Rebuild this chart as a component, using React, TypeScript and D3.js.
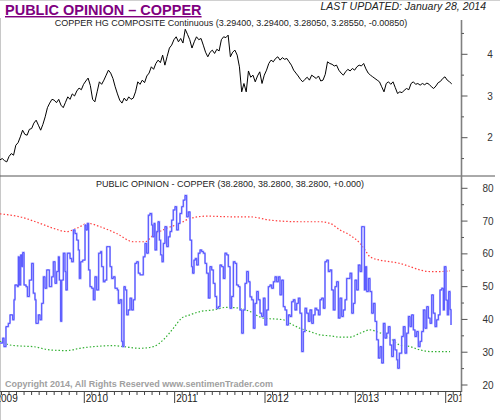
import React from "react";
import * as d3 from "d3";

// ---- Copper HG composite (weekly-ish samples, start 2009.067, step 0.025 year)
const copperStart = 2009.067;
const copperStep = 0.025;
const copperValues = [
  1.47, 1.5, 1.45, 1.42, 1.55, 1.62, 1.58, 1.82, 1.88, 2.02,
  2.18, 2.08, 2.06, 2.2, 2.22, 2.35, 2.42, 2.3, 2.18, 2.32,
  2.5, 2.72, 2.83, 2.92, 2.9, 2.84, 2.92, 2.78, 2.72, 2.85,
  2.98, 2.92, 3.05, 3.0, 3.12, 3.19, 3.15, 3.28, 3.36, 3.43,
  3.25, 2.92, 2.86, 3.1, 3.34, 3.28, 3.38, 3.5, 3.62, 3.55,
  3.42, 3.22, 3.05, 2.9, 2.83, 2.95, 2.88, 2.98, 2.92, 2.95,
  3.1, 3.34, 3.28, 3.38, 3.32, 3.48, 3.55, 3.7, 3.64, 3.78,
  3.86, 3.8, 3.98, 3.74, 3.95, 4.15, 4.22, 4.35, 4.42, 4.3,
  4.38, 4.27, 4.6, 4.48, 4.35, 4.15, 4.3, 4.42, 4.35, 4.38,
  4.22, 4.05, 3.94, 4.05, 4.1, 4.02, 4.12, 4.08, 4.35, 4.42,
  4.4, 4.46, 3.94, 4.05, 4.1, 3.98, 3.7, 3.1, 3.3, 3.1,
  3.6, 3.45, 3.5, 3.34, 3.48, 3.58, 3.3, 3.5, 3.62, 3.78,
  3.86, 3.82, 3.9, 3.94, 3.86, 3.92, 3.88, 3.9, 3.82, 3.74,
  3.62, 3.55, 3.48, 3.4, 3.34, 3.4, 3.45, 3.38, 3.5, 3.46,
  3.42, 3.48, 3.36, 3.38, 3.52, 3.82, 3.78, 3.76, 3.72, 3.74,
  3.62, 3.55, 3.5, 3.58, 3.64, 3.6, 3.66, 3.62, 3.7, 3.74,
  3.72, 3.78, 3.65, 3.55, 3.5, 3.46, 3.42, 3.38, 3.34, 3.22,
  3.1, 3.3, 3.34, 3.28, 3.34, 3.2, 3.06, 3.1, 3.08, 3.14,
  3.18, 3.15, 3.3, 3.34, 3.28, 3.3, 3.26, 3.3, 3.27, 3.31,
  3.28, 3.22, 3.18, 3.24, 3.32, 3.35, 3.42, 3.46, 3.38, 3.34,
  3.29,
];

// ---- Public opinion (weekly, step line)
const opinionYears = [
  2009.067, 2009.097, 2009.111, 2009.133, 2009.159, 2009.178, 2009.207, 2009.222, 2009.233, 2009.259,
  2009.27, 2009.281, 2009.296, 2009.307, 2009.318, 2009.333, 2009.355, 2009.37, 2009.392, 2009.417,
  2009.436, 2009.454, 2009.465, 2009.491, 2009.51, 2009.528, 2009.547, 2009.565, 2009.584, 2009.613,
  2009.639, 2009.657, 2009.676, 2009.694, 2009.713, 2009.724, 2009.738, 2009.75, 2009.768, 2009.786,
  2009.797, 2009.812, 2009.842, 2009.86, 2009.879, 2009.897, 2009.916, 2009.934, 2009.945, 2009.96,
  2009.982, 2010.008, 2010.019, 2010.034, 2010.048, 2010.063, 2010.082, 2010.1, 2010.118, 2010.137,
  2010.159, 2010.181, 2010.192, 2010.211, 2010.229, 2010.248, 2010.266, 2010.285, 2010.303, 2010.321,
  2010.34, 2010.366, 2010.377, 2010.395, 2010.414, 2010.425, 2010.439, 2010.454, 2010.469, 2010.487,
  2010.506, 2010.524, 2010.543, 2010.561, 2010.58, 2010.598, 2010.617, 2010.635, 2010.653, 2010.672,
  2010.69, 2010.709, 2010.727, 2010.746, 2010.757, 2010.772, 2010.783, 2010.801, 2010.816, 2010.831,
  2010.845, 2010.86, 2010.875, 2010.893, 2010.912, 2010.93, 2010.949, 2010.967, 2010.985, 2011.004,
  2011.022, 2011.041, 2011.059, 2011.078, 2011.096, 2011.115, 2011.133, 2011.151, 2011.17, 2011.188,
  2011.199, 2011.214, 2011.229, 2011.244, 2011.262, 2011.281, 2011.299, 2011.318, 2011.336, 2011.354,
  2011.373, 2011.391, 2011.41, 2011.428, 2011.447, 2011.465, 2011.484, 2011.502, 2011.52, 2011.539,
  2011.557, 2011.576, 2011.594, 2011.613, 2011.631, 2011.65, 2011.668, 2011.686, 2011.705, 2011.723,
  2011.742, 2011.76, 2011.779, 2011.797, 2011.816, 2011.834, 2011.853, 2011.871, 2011.889, 2011.908,
  2011.926, 2011.945, 2011.963, 2011.982, 2012.0, 2012.019, 2012.037, 2012.056, 2012.074, 2012.093,
  2012.111, 2012.129, 2012.148, 2012.166, 2012.185, 2012.203, 2012.222, 2012.24, 2012.259, 2012.277,
  2012.295, 2012.314, 2012.332, 2012.351, 2012.369, 2012.387, 2012.406, 2012.424, 2012.443, 2012.461,
  2012.48, 2012.498, 2012.517, 2012.535, 2012.554, 2012.572, 2012.591, 2012.609, 2012.627, 2012.646,
  2012.664, 2012.683, 2012.701, 2012.72, 2012.738, 2012.756, 2012.775, 2012.793, 2012.812, 2012.83,
  2012.849, 2012.867, 2012.886, 2012.904, 2012.923, 2012.941, 2012.96, 2012.978, 2012.996, 2013.015,
  2013.033, 2013.052, 2013.07, 2013.089, 2013.1, 2013.111, 2013.125, 2013.144, 2013.162, 2013.181,
  2013.199, 2013.218, 2013.236, 2013.255, 2013.273, 2013.292, 2013.31, 2013.328, 2013.347, 2013.365,
  2013.384, 2013.402, 2013.421, 2013.439, 2013.458, 2013.469, 2013.487, 2013.513, 2013.531, 2013.55,
  2013.568, 2013.587, 2013.605, 2013.623, 2013.642, 2013.66, 2013.679, 2013.697, 2013.716, 2013.734,
  2013.753, 2013.771, 2013.79, 2013.808, 2013.827, 2013.845, 2013.863, 2013.882, 2013.9, 2013.919,
  2013.937, 2013.956, 2013.974, 2013.985, 2014.003, 2014.018, 2014.033, 2014.048, 2014.059,
];
const opinionValues = [
  32.8, 34.3, 31.7, 37.8, 38.8, 41.4, 39.9, 46, 50.5, 50,
  59.1, 50.5, 59.7, 56.1, 60.4, 50.5, 50, 47, 52, 57.1,
  48, 46, 38.8, 41.4, 39.9, 44.9, 53, 49.5, 55.1, 50,
  53, 57.6, 51, 54.6, 59.1, 52, 39.4, 52, 60.2, 54.6,
  49, 60.2, 58.6, 57.6, 67.3, 66.2, 64.2, 61.2, 52.5, 57.6,
  58.1, 68.8, 67.3, 69.3, 55.1, 50, 49.5, 46, 53, 49,
  60.2, 60.7, 56.1, 51.5, 52, 62.2, 62.2, 56.1, 52.5, 53,
  49.5, 49, 44.9, 46, 33.3, 31.7, 50, 49, 41.4, 42.9,
  46.5, 42.9, 46, 57.1, 57.6, 54.1, 53.6, 53.6, 59.1, 63.2,
  60.2, 71.8, 72.3, 68.8, 65.2, 69.3, 61.2, 66.8, 69.8, 64.2,
  59.7, 57.6, 63.2, 68.3, 62.2, 65.2, 66.8, 70.3, 73.4, 74.4,
  67.3, 69.3, 72.3, 74.4, 76.4, 77.8, 71.3, 72.8, 64.2, 56.1,
  54.1, 58.1, 58.6, 56.6, 60.2, 61.2, 60.7, 60.2, 57.1, 54.1,
  46.5, 56.1, 55.1, 51, 47, 43.4, 43.9, 56.6, 56.1, 52.5,
  60.2, 59.7, 56.1, 43.4, 47, 57.6, 57.1, 50.5, 50, 42.9,
  35.8, 42.9, 51, 54.6, 51.5, 46.9, 46, 37.3, 44.9, 48.5,
  46, 41.9, 40.9, 46.5, 38.3, 42.9, 50, 50.5, 49.5, 51.5,
  53, 51.5, 53, 47.5, 52, 43.9, 42.9, 38.3, 41.4, 40.9,
  45.4, 46, 42.9, 44.9, 46.5, 41.9, 30.2, 36.3, 43.4, 41.9,
  39.4, 42.9, 38.8, 41.4, 43.4, 42.9, 41.4, 46, 46.5, 43.4,
  57.6, 58.1, 54.6, 55.1, 49, 42.9, 50, 51.5, 40.4, 46.5,
  40.9, 42.9, 46, 52.5, 52.5, 54.1, 41.9, 44.9, 52, 49,
  56.6, 54.6, 68.3, 68.3, 49, 56.1, 48.5, 52.5, 48.5, 41.9,
  44.9, 39.4, 33.8, 28.2, 31.7, 26.7, 38.8, 34.3, 35.8, 37.8,
  32.2, 28.7, 33.8, 30.7, 27.7, 25.1, 29.7, 34.8, 37.8, 29.7,
  35.8, 40.9, 37.8, 41.4, 36.8, 34.8, 36.3, 31.7, 33.3, 36.3,
  42.9, 37.3, 43.9, 40.4, 38.8, 47.5, 41.9, 37.8, 39.9, 41.4,
  49, 49.5, 42.9, 56.1, 45.9, 41.4, 48.5, 43, 38.3,
];

// ---- Upper (red) and lower (green) bands
const upperYears = [
  2009.067, 2009.288, 2009.51, 2009.657, 2009.805, 2009.916, 2010.045, 2010.174, 2010.358, 2010.543,
  2010.672, 2010.764, 2010.912, 2011.059, 2011.17, 2011.354, 2011.65, 2011.834, 2012.056, 2012.387,
  2012.609, 2012.72, 2012.83, 2012.941, 2013.052, 2013.107, 2013.162, 2013.273, 2013.384, 2013.494,
  2013.605, 2013.716, 2013.827, 2013.937, 2014.048,
];
const upperValues = [
  72.2, 71.3, 69.3, 67.8, 66.8, 67.8, 69.3, 68.3, 66.2, 63.7,
  63.7, 65.7, 67.8, 69.3, 70.8, 71.5, 71.3, 71.3, 70.3, 69.8,
  69.8, 69.3, 67.3, 65.7, 63.2, 61.2, 59.1, 58.1, 57.6, 57.1,
  56.1, 55.1, 54.6, 54.6, 54.8,
];
const lowerYears = [
  2009.067, 2009.178, 2009.288, 2009.436, 2009.62, 2009.805, 2009.952, 2010.1, 2010.321, 2010.432,
  2010.617, 2010.764, 2010.875, 2010.985, 2011.078, 2011.17, 2011.281, 2011.428, 2011.576, 2011.723,
  2011.834, 2011.982, 2012.203, 2012.277, 2012.387, 2012.498, 2012.609, 2012.72, 2012.83, 2012.941,
  2013.052, 2013.162, 2013.236, 2013.384, 2013.494, 2013.605, 2013.716, 2013.827, 2013.937, 2014.048,
];
const lowerValues = [
  33.3, 32.2, 31.9, 31.7, 30.7, 30.5, 31.2, 31.7, 32, 31.7,
  31.2, 31.7, 33.8, 37.3, 40.4, 41.4, 42.4, 42.9, 43.7, 43.4,
  42.4, 40.4, 39.9, 38.8, 37.3, 36.3, 35.3, 35, 34.6, 34.6,
  35.8, 36.8, 36.3, 34.3, 32.2, 31.7, 30.7, 30.2, 30.2, 30.2,
];

const yearTicks = [2009, 2010, 2011, 2012, 2013, 2014];
const copperTicks = [1.5, 2, 2.5, 3, 3.5, 4, 4.5];
const copperLabels = [2, 3, 4];
const opinionTicks = [20, 25, 30, 35, 40, 45, 50, 55, 60, 65, 70, 75, 80];
const opinionLabels = [20, 30, 40, 50, 60, 70, 80];

const FONT = "Arial, 'Liberation Sans', sans-serif";

export default function App() {
  const plotRight = 461.5;
  const x = d3.scaleLinear().domain([2010, 2014]).range([84.3, 445.7]);
  const yTop = d3.scaleLinear().domain([2, 4]).range([137.7, 54.3]);
  const yBot = d3.scaleLinear().domain([20, 80]).range([385, 188.3]);

  const copperData = copperValues.map((v, i) => [copperStart + i * copperStep, v] as [number, number]);
  const copperLine = d3.line<[number, number]>().x((d) => x(d[0])).y((d) => yTop(d[1]));

  const opinionData = opinionValues.map((v, i) => [opinionYears[i], v] as [number, number]);
  const opinionLine = d3
    .line<[number, number]>()
    .x((d) => x(d[0]))
    .y((d) => yBot(d[1]))
    .curve(d3.curveStepAfter);

  const bandLine = d3
    .line<[number, number]>()
    .x((d) => x(d[0]))
    .y((d) => yBot(d[1]))
    .curve(d3.curveMonotoneX);
  const upperData = upperValues.map((v, i) => [upperYears[i], v] as [number, number]);
  const lowerData = lowerValues.map((v, i) => [lowerYears[i], v] as [number, number]);

  const monthTicks: number[] = [];
  for (const yr of yearTicks) {
    for (let m = 1; m < 12; m++) monthTicks.push(yr + m / 12);
  }

  const axisY = 391.5;

  return (
    <svg
      width={500}
      height={420}
      style={{ position: "absolute", left: 0, top: 0, background: "#fff" }}
      fontFamily={FONT}
    >
      <defs>
        <clipPath id="clipTop">
          <rect x={0} y={20} width={plotRight} height={156} />
        </clipPath>
        <clipPath id="clipBot">
          <rect x={0} y={176} width={plotRight} height={216} />
        </clipPath>
        <clipPath id="clipAxis">
          <rect x={0} y={380} width={plotRight} height={40} />
        </clipPath>
      </defs>
      <rect x={0} y={0} width={500} height={420} fill="#fff" />
      {/* frame lines */}
      <line x1={0} x2={500} y1={0.5} y2={0.5} stroke="#d0d0d0" />
      <line x1={0.5} x2={0.5} y1={18} y2={420} stroke="#c8c8c8" />

      {/* header */}
      <text x={5} y={15} fontSize={14.5} fontWeight="bold" fill="#800080" textDecoration="underline">
        PUBLIC OPINION – COPPER
      </text>
      <text x={486} y={10} fontSize={10.5} fontStyle="italic" fill="#222" textAnchor="end">
        LAST UPDATED:  January 28, 2014
      </text>

      {/* top panel */}
      <text x={231} y={25.5} fontSize={9} fill="#222" textAnchor="middle">
        COPPER HG COMPOSITE Continuous (3.29400, 3.29400, 3.28050, 3.28550, -0.00850)
      </text>
      <g clipPath="url(#clipTop)">
        <path d={copperLine(copperData) || ""} fill="none" stroke="#000" strokeWidth={1} />
      </g>

      {/* divider */}
      <line x1={0} x2={495} y1={176} y2={176} stroke="#555" strokeWidth={1} />

      {/* bottom panel */}
      <text x={230} y={186.5} fontSize={9} fill="#222" textAnchor="middle">
        PUBLIC OPINION - COPPER (38.2800, 38.2800, 38.2800, +0.000)
      </text>
      <g clipPath="url(#clipBot)">
        <path
          d={bandLine(upperData) || ""}
          fill="none"
          stroke="#ff4040"
          strokeWidth={1.2}
          strokeDasharray="1.5,2"
        />
        <path
          d={bandLine(lowerData) || ""}
          fill="none"
          stroke="#33b033"
          strokeWidth={1.2}
          strokeDasharray="1.5,2"
        />
        <path
          d={opinionLine(opinionData) || ""}
          fill="none"
          stroke="#b4b4ff"
          strokeWidth={1.9}
        />
        <path
          d={opinionLine(opinionData) || ""}
          fill="none"
          stroke="#4646ff"
          strokeWidth={0.9}
        />
      </g>

      <text x={5} y={387} fontSize={9} fontWeight="bold" fill="#a0a0a0">
        Copyright 2014, All Rights Reserved  www.sentimenTrader.com
      </text>

      {/* right axis */}
      <line x1={plotRight} x2={plotRight} y1={20} y2={axisY + 0.5} stroke="#808080" strokeWidth={1.6} />
      {copperTicks.map((t) => (
        <line
          key={"ct" + t}
          x1={plotRight}
          x2={plotRight + (Number.isInteger(t) ? 6 : 2.5)}
          y1={yTop(t)}
          y2={yTop(t)}
          stroke="#555"
        />
      ))}
      {copperLabels.map((t) => (
        <text key={"cl" + t} x={490} y={yTop(t) + 3.5} fontSize={10} fill="#333" textAnchor="middle">
          {t}
        </text>
      ))}
      {opinionTicks.map((t) => (
        <line
          key={"ot" + t}
          x1={plotRight}
          x2={plotRight + (t % 10 === 0 ? 6 : 2.5)}
          y1={yBot(t)}
          y2={yBot(t)}
          stroke="#555"
        />
      ))}
      {opinionLabels.map((t) => (
        <text key={"ol" + t} x={488} y={yBot(t) + 3.5} fontSize={10} fill="#333" textAnchor="middle">
          {t}
        </text>
      ))}

      {/* bottom axis */}
      <line x1={0} x2={plotRight} y1={axisY} y2={axisY} stroke="#444" strokeWidth={1} />
      <g clipPath="url(#clipAxis)">
        {monthTicks.map((t) => (
          <line key={"m" + t} x1={x(t)} x2={x(t)} y1={axisY} y2={axisY + 3.5} stroke="#444" />
        ))}
        {yearTicks.map((t) => (
          <g key={"y" + t}>
            <line x1={x(t)} x2={x(t)} y1={axisY} y2={403} stroke="#444" />
            <text x={x(t) + 1.5} y={402} fontSize={10} fill="#222">
              {t}
            </text>
          </g>
        ))}
      </g>
    </svg>
  );
}
